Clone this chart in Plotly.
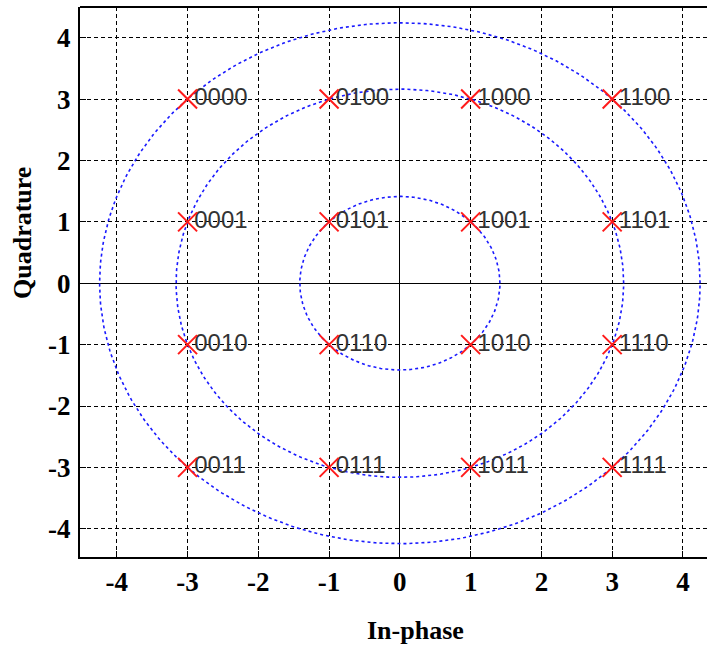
import numpy as np
import plotly.graph_objects as go

# 16-QAM constellation points (In-phase, Quadrature) and bit labels
i_vals = [-3, -1, 1, 3, -3, -1, 1, 3, -3, -1, 1, 3, -3, -1, 1, 3]
q_vals = [3, 3, 3, 3, 1, 1, 1, 1, -1, -1, -1, -1, -3, -3, -3, -3]
bit_labels = ["0000", "0100", "1000", "1100",
              "0001", "0101", "1001", "1101",
              "0010", "0110", "1010", "1110",
              "0011", "0111", "1011", "1111"]
tick_vals = [-4, -3, -2, -1, 0, 1, 2, 3, 4]
tick_text = ["-4", "-3", "-2", "-1", "0", "1", "2", "3", "4"]

fig = go.Figure()

# Constant-amplitude rings through the constellation points
radii = sorted(set(np.round(np.hypot(i_vals, q_vals), 6)))
theta = np.linspace(0, 2 * np.pi, 400)
for r in radii:
    fig.add_trace(go.Scatter(
        x=r * np.cos(theta), y=r * np.sin(theta), mode="lines",
        line=dict(color="#1a1aff", width=1.6, dash="3px,3px"),
        hoverinfo="skip", showlegend=False))

fig.add_trace(go.Scatter(
    x=i_vals, y=q_vals, mode="text",
    text=bit_labels, texttemplate=" %{text}", textposition="middle right",
    textfont=dict(family="Liberation Sans", size=24, color="#333333"),
    hoverinfo="skip", showlegend=False))

fig.add_trace(go.Scatter(
    x=i_vals, y=q_vals, mode="markers",
    marker=dict(symbol="x-thin", size=19, line=dict(color="#ff1a1a", width=2)),
    showlegend=False))

axis_common = dict(
    tickvals=tick_vals, ticktext=tick_text, ticks="inside", ticklen=6, tickcolor="black",
    showgrid=True, gridcolor="black", gridwidth=1, griddash="4px,3px",
    zeroline=True, zerolinecolor="black", zerolinewidth=1,
    showline=True, linecolor="black", linewidth=2,
    tickfont=dict(family="Liberation Serif", size=27, color="black", weight="bold"),
    automargin=False,
)

fig.update_xaxes(range=[-4.52, 4.34], **axis_common, ticklabelstandoff=0)
fig.update_yaxes(range=[-4.46, 4.5], **axis_common, ticklabelstandoff=2)

fig.add_shape(type="line", xref="paper", yref="paper", x0=0, x1=1, y0=1, y1=1,
              line=dict(color="black", width=2))

fig.add_annotation(text="<b>In-phase</b>", xref="paper", yref="paper",
                   x=(415 - 80) / 627, y=-(630 - 557) / 550, showarrow=False,
                   font=dict(family="Liberation Serif", size=26, color="black"),
                   xanchor="center", yanchor="middle")
fig.add_annotation(text="<b>Quadrature</b>", xref="paper", yref="paper",
                   x=-(80 - 22) / 627, y=(557 - 233) / 550, showarrow=False,
                   textangle=-90,
                   font=dict(family="Liberation Serif", size=26, color="black"),
                   xanchor="center", yanchor="middle")

fig.update_layout(
    width=707, height=648,
    margin=dict(l=80, r=0, t=7, b=91, autoexpand=False),
    plot_bgcolor="white", paper_bgcolor="white",
)

fig.write_html("out.html", config={"displayModeBar": False},
               post_script="document.body.style.margin='0';document.body.style.overflow='hidden';")
